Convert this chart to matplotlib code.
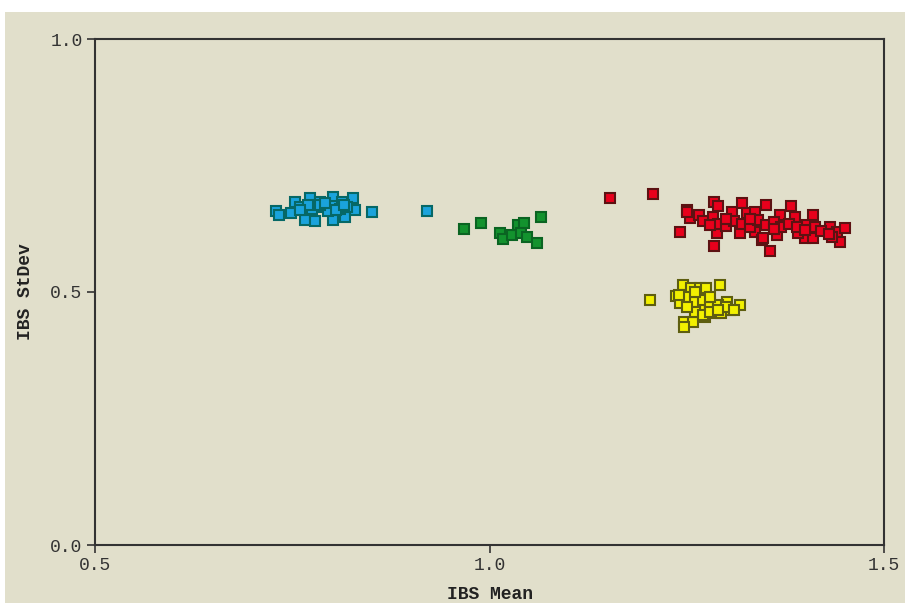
import matplotlib
matplotlib.use("Agg")
import matplotlib.pyplot as plt
from matplotlib.patches import Rectangle

blue_x = [0.730, 0.733, 0.749, 0.754, 0.760, 0.772, 0.766, 0.779, 0.785, 0.802, 0.802, 0.813,
          0.817, 0.827, 0.830, 0.851, 0.921, 0.775, 0.790, 0.800, 0.810, 0.795, 0.785, 0.805,
          0.820, 0.770, 0.760, 0.792, 0.815]
blue_y = [0.660, 0.652, 0.656, 0.677, 0.667, 0.685, 0.642, 0.640, 0.677, 0.688, 0.642, 0.677,
          0.649, 0.685, 0.662, 0.658, 0.660, 0.665, 0.668, 0.670, 0.665, 0.660, 0.672, 0.662,
          0.668, 0.672, 0.662, 0.676, 0.672]

green_x = [0.968, 0.989, 1.013, 1.017, 1.028, 1.036, 1.044, 1.040, 1.048, 1.060, 1.065]
green_y = [0.624, 0.636, 0.616, 0.604, 0.613, 0.632, 0.636, 0.617, 0.609, 0.597, 0.648]

red_x = [1.153, 1.207, 1.242, 1.250, 1.254, 1.265, 1.285, 1.290, 1.283, 1.288, 1.285, 1.307,
         1.320, 1.318, 1.326, 1.337, 1.337, 1.346, 1.351, 1.368, 1.382, 1.387, 1.364, 1.347,
         1.356, 1.400, 1.410, 1.410, 1.413, 1.432, 1.440, 1.451, 1.444, 1.434, 1.400, 1.391,
         1.270, 1.290, 1.300, 1.310, 1.320, 1.330, 1.340, 1.350, 1.360, 1.370, 1.380, 1.390,
         1.400, 1.420, 1.430, 1.300, 1.280, 1.330, 1.360, 1.250]
red_y = [0.685, 0.694, 0.619, 0.662, 0.646, 0.652, 0.678, 0.669, 0.648, 0.617, 0.590, 0.659,
         0.675, 0.617, 0.656, 0.659, 0.619, 0.603, 0.672, 0.652, 0.669, 0.649, 0.613, 0.606,
         0.582, 0.606, 0.606, 0.652, 0.629, 0.629, 0.619, 0.626, 0.599, 0.609, 0.632, 0.616,
         0.640, 0.635, 0.630, 0.640, 0.635, 0.628, 0.642, 0.632, 0.638, 0.628, 0.635, 0.628,
         0.622, 0.620, 0.615, 0.645, 0.632, 0.645, 0.625, 0.659]

yellow_x = [1.203, 1.237, 1.245, 1.256, 1.267, 1.275, 1.292, 1.241, 1.246, 1.258, 1.267, 1.273,
            1.279, 1.301, 1.305, 1.318, 1.286, 1.294, 1.247, 1.250, 1.260, 1.270, 1.280, 1.290,
            1.300, 1.260, 1.270, 1.280, 1.250, 1.310, 1.240, 1.260, 1.280, 1.290]
yellow_y = [0.484, 0.492, 0.514, 0.507, 0.507, 0.507, 0.514, 0.478, 0.441, 0.441, 0.466, 0.451,
            0.478, 0.481, 0.464, 0.474, 0.458, 0.458, 0.431, 0.490, 0.480, 0.485, 0.470, 0.475,
            0.470, 0.460, 0.455, 0.460, 0.470, 0.465, 0.495, 0.500, 0.490, 0.465]

x_ticks = [0.5, 1.0, 1.5]
y_ticks = [0.0, 0.5, 1.0]
x_label = "IBS Mean"
y_label = "IBS StDev"

bg = "#e1dfcb"
fig = plt.figure(figsize=(9.07, 6.05), dpi=100, facecolor="white")
bgrect = Rectangle((5/907, 2/605), 900/907, 591/605, transform=fig.transFigure,
                   facecolor=bg, edgecolor="none", zorder=-10)
fig.add_artist(bgrect)
ax = fig.add_axes([95/907, 1 - 545/605, 789/907, 506/605])
ax.set_zorder(1)
ax.set_facecolor(bg)

series = [
    (blue_x, blue_y, "#1aa3dc", "#066866"),
    (green_x, green_y, "#13922e", "#0a6422"),
    (red_x, red_y, "#e8001c", "#5c1212"),
    (yellow_x, yellow_y, "#f2f000", "#5e5e10"),
]
for xs, ys, fc, ec in series:
    ax.plot(xs, ys, linestyle="none", marker="s", markersize=7.9,
            markerfacecolor=fc, markeredgecolor=ec, markeredgewidth=1.5)

ax.set_xlim(0.5, 1.5)
ax.set_ylim(0.0, 1.0)
ax.set_xticks(x_ticks)
ax.set_yticks(y_ticks)
ax.set_xticklabels([f"{v:.1f}" for v in x_ticks])
ax.set_yticklabels([f"{v:.1f}" for v in y_ticks])
for s in ax.spines.values():
    s.set_linewidth(1.5)
    s.set_color("#333333")
ax.tick_params(direction="out", length=6, width=1.2, color="#333333",
               labelsize=13, labelcolor="#333333", pad=3)
for lab in ax.get_xticklabels() + ax.get_yticklabels():
    lab.set_fontfamily("Liberation Mono")
ax.set_xlabel(x_label, fontfamily="Liberation Mono", fontweight="bold", fontsize=13,
              color="#222222", labelpad=8)
ax.set_ylabel(y_label, fontfamily="Liberation Mono", fontweight="bold", fontsize=13,
              color="#222222", labelpad=12)

fig.savefig("out.png", dpi=100, facecolor="white")
